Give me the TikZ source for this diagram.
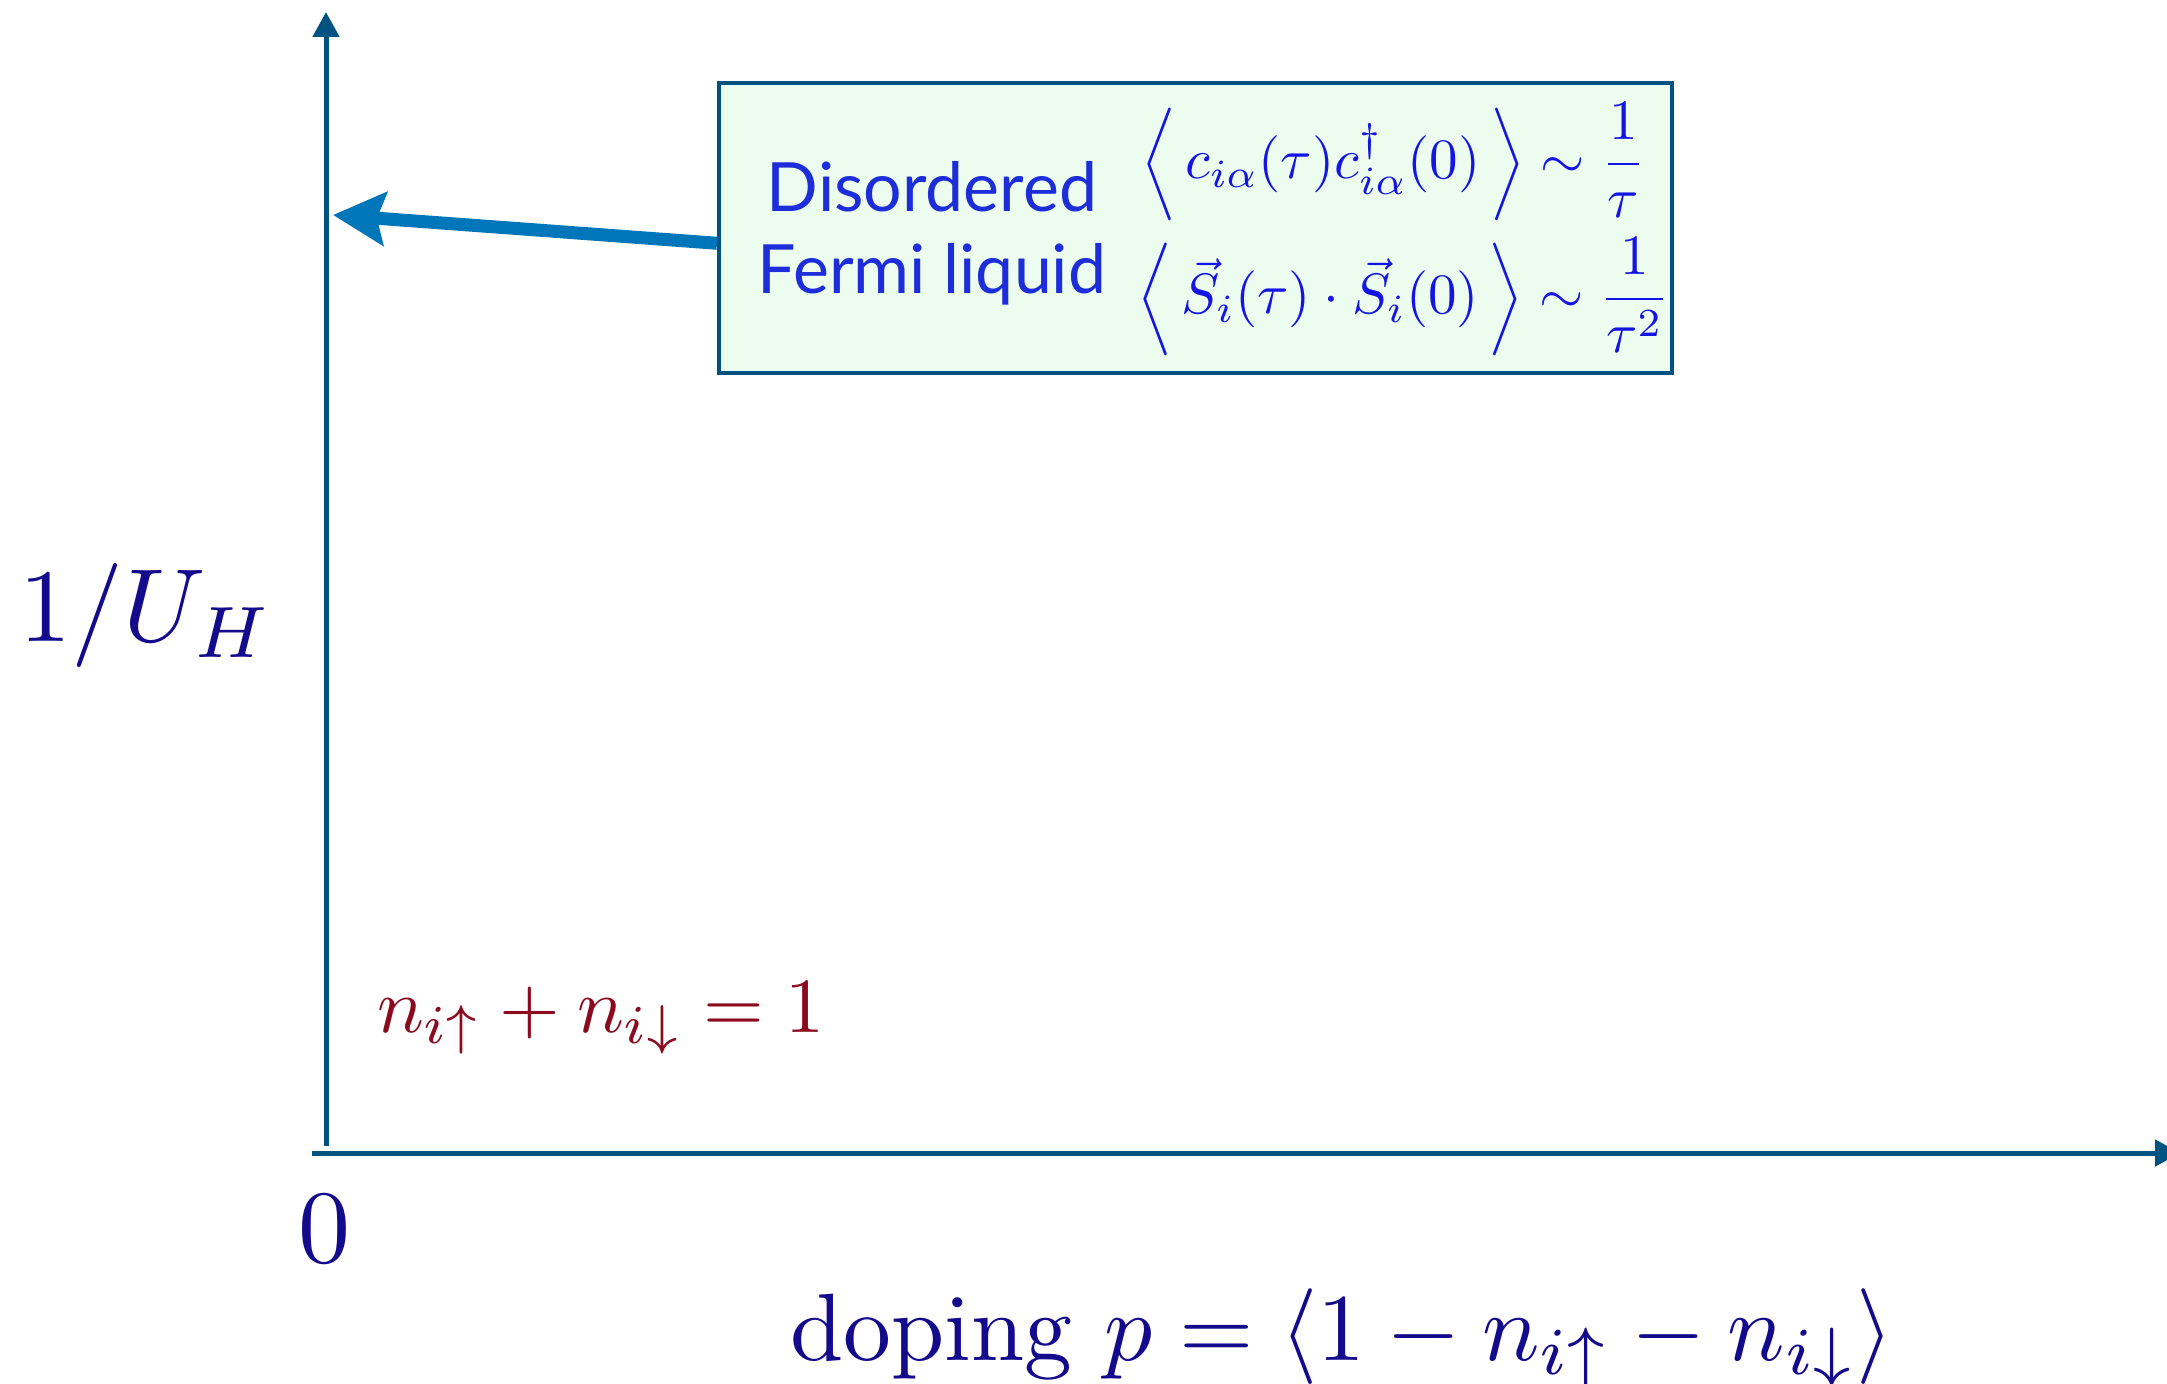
\documentclass[tikz,border=0pt]{standalone}
\usepackage{graphicx}
\usepackage{fontspec}
\newfontfamily\labelsans{Lato}
\usetikzlibrary{arrows.meta,calc}
\definecolor{axiscol}{RGB}{0,82,128}
\definecolor{arrowcol}{RGB}{0,118,186}
\definecolor{boxfill}{RGB}{236,253,240}
\definecolor{boxtext}{RGB}{30,45,218}
\definecolor{boxmath}{RGB}{20,20,228}
\definecolor{navy}{RGB}{20,10,140}
\definecolor{darkred}{RGB}{140,10,30}
\newcommand\tallangleL{\mathopen{\vcenter{\hbox{\scalebox{1}[1.1]{$\Big\langle$}}}}}
\newcommand\tallangleR{\mathclose{\vcenter{\hbox{\scalebox{1}[1.1]{$\Big\rangle$}}}}}
\tikzset{
  axisline/.style={draw=axiscol,line width=2.5pt,-{Triangle[length=12.5pt,width=13pt]}},
  infobox/.style={draw=axiscol,fill=boxfill,line width=2pt,minimum width=476.5pt,minimum height=145pt,inner sep=0pt},
  sanslabel/.style={text=boxtext,font=\labelsans\fontsize{34}{40}\selectfont,inner sep=0pt},
  boxformula/.style={text=boxmath,scale=2.85,inner sep=0pt},
  biglabel/.style={text=navy,scale=5.2,inner sep=0pt},
  redlabel/.style={text=darkred,scale=3.9,inner sep=0pt},
  pointer/.style={draw=arrowcol,line width=6.5pt,-{Stealth[length=26pt,width=26.5pt,inset=4pt]}}
}
\begin{document}
\begin{tikzpicture}[x=0.5pt,y=-0.5pt]
\useasboundingbox (0,0) rectangle (2167,1384);
% axes
\coordinate (ybot) at (326,1146);
\coordinate (ytop) at (326,12);
\coordinate (xleft) at (312,1153);
\coordinate (xright) at (2180,1153);
\draw[axisline] (ybot) -- (ytop);
\draw[axisline] (xleft) -- (xright);
% box
\node[infobox] (box) at (1195.5,228) {};
\node[sanslabel,anchor=base] (dis) at (932,212) {Disordered};
\node[sanslabel,anchor=base] (fermi) at (932,294) {Fermi liquid};
\node[boxformula,anchor=west] (f1) at (1140,162) {$\displaystyle \tallangleL\, c_{i\alpha}(\tau)c^\dagger_{i\alpha}(0)\,\tallangleR \sim \frac{1}{\tau}$};
\node[boxformula,anchor=west] (f2) at (1136,297) {$\displaystyle \tallangleL\, \vec{S}_i(\tau)\cdot\vec{S}_i(0)\,\tallangleR \sim \frac{1}{\tau^2}$};
% pointer arrow
\coordinate (tip) at (333,215);
\draw[pointer] ($(box.north west)!0.552!(box.south west)$) -- (tip);
% labels
\node[biglabel,anchor=base west] (ylab) at (17,642) {$1/U_H$};
\node[biglabel,anchor=base] (zero) at (324,1262) {$0$};
\node[biglabel,scale=0.92,anchor=base] (xlab) at (1342,1360) {doping $p=\langle 1-n_{i\uparrow}-n_{i\downarrow}\rangle$};
\node[redlabel,anchor=base] (constraint) at (601,1032) {$n_{i\uparrow}+n_{i\downarrow}=1$};
\end{tikzpicture}
\end{document}
